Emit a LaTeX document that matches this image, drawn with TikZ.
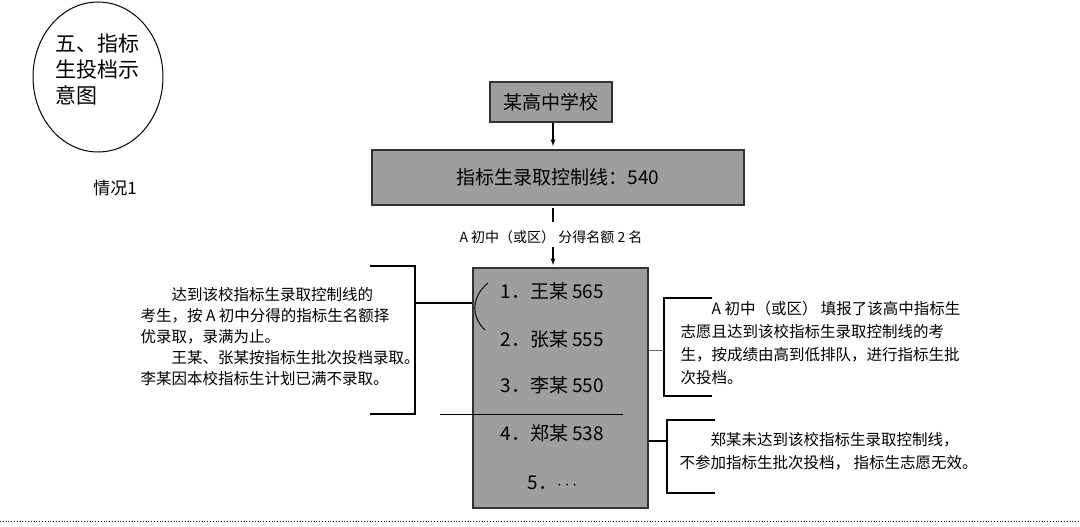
\documentclass[tikz,border=0pt]{standalone}
\usepackage{fontspec}
\setmainfont{Noto Sans CJK SC}
\usetikzlibrary{shapes.geometric}
\begin{document}
\begin{tikzpicture}[x=1pt,y=-1pt,line width=1.2pt,
  gbox/.style={draw=black!80,fill=black!38,inner sep=0},
  small/.style={font=\fontsize{15.5}{21}\selectfont,align=left,anchor=north west,inner sep=0},
  item/.style={font=\fontsize{19}{22}\selectfont,anchor=west,inner sep=0}]
\useasboundingbox (0,0) rectangle (1080,527);
\node[draw,ellipse,minimum width=130,minimum height=150,line width=1pt,inner sep=0] (ell) at (98,77) {};
\node[font=\fontsize{21}{26}\selectfont,align=left,anchor=north west,inner sep=0] (title) at (55,33) {五、指标\\生投档示\\意图};
\node[font=\fontsize{17}{20}\selectfont,inner sep=0] (case) at (115,188) {情况1};
\node[gbox,minimum width=122,minimum height=40,font=\fontsize{19}{22}\selectfont] (school) at (551,102) {某高中学校};
\node[gbox,minimum width=372,minimum height=55,font=\fontsize{19}{22}\selectfont] (line) at (558,177.5) {指标生录取控制线：540};
\node[font=\fontsize{14}{16}\selectfont,inner sep=1] (quota) at (551,237) {A 初中（或区） 分得名额 2 名};
\node[gbox,minimum width=175,minimum height=240] (list) at (560.5,388) {};
\draw[-latex] (school.south -| 553,0) -- (553,146);
\draw (553,208) -- (553,222);
\draw[-latex] (553,247) -- (553,265);
\node[item] (i1) at (500,291) {1．王某 565};
\node[item] (i2) at (500,339) {2．张某 555};
\node[item] (i3) at (500,385) {3．李某 550};
\node[item] (i4) at (500,433) {4．郑某 538};
\node[item] (i5) at (527,483) {5．$\cdots$};
\coordinate (sL) at (440,414); \coordinate (sR) at (623,414);
\draw[line width=1pt] (sL) -- (sR);
\draw[line width=0.9pt] (488,283) .. controls (470,298) and (472,318) .. (485,330);
% left bracket
\coordinate (lb) at (415,303);
\draw (370,266) -- (415,266) -- (415,414) -- (370,414);
\draw (lb) -- (list.west |- lb);
\node[small] (lt) at (140,287) {\hspace*{2em}达到该校指标生录取控制线的\\考生，按 A 初中分得的指标生名额择\\优录取，录满为止。\\\hspace*{2em}王某、张某按指标生批次投档录取。\\李某因本校指标生计划已满不录取。};
% right bracket 1
\coordinate (rb1) at (664,350);
\draw (712,298) -- (664,298) -- (664,396) -- (712,396);
\draw[line width=0.7pt,black!60] (list.east |- rb1) -- (rb1);
\node[small,font=\fontsize{15.5}{23}\selectfont] (rt1) at (680,301) {\hspace*{2em}A 初中（或区） 填报了该高中指标生\\志愿且达到该校指标生录取控制线的考\\生，按成绩由高到低排队，进行指标生批\\次投档。};
% right bracket 2
\coordinate (rb2) at (667,441);
\draw (715,420) -- (667,420) -- (667,493) -- (715,493);
\draw (list.east |- rb2) -- (rb2);
\node[small,font=\fontsize{15.5}{23}\selectfont] (rt2) at (679,432) {\hspace*{2em}郑某未达到该校指标生录取控制线，\\不参加指标生批次投档， 指标生志愿无效。};
\coordinate (d1) at (0,521); \coordinate (d2) at (1080,521);
\draw[dotted,line width=0.8pt] (d1) -- (d2);
\end{tikzpicture}
\end{document}
